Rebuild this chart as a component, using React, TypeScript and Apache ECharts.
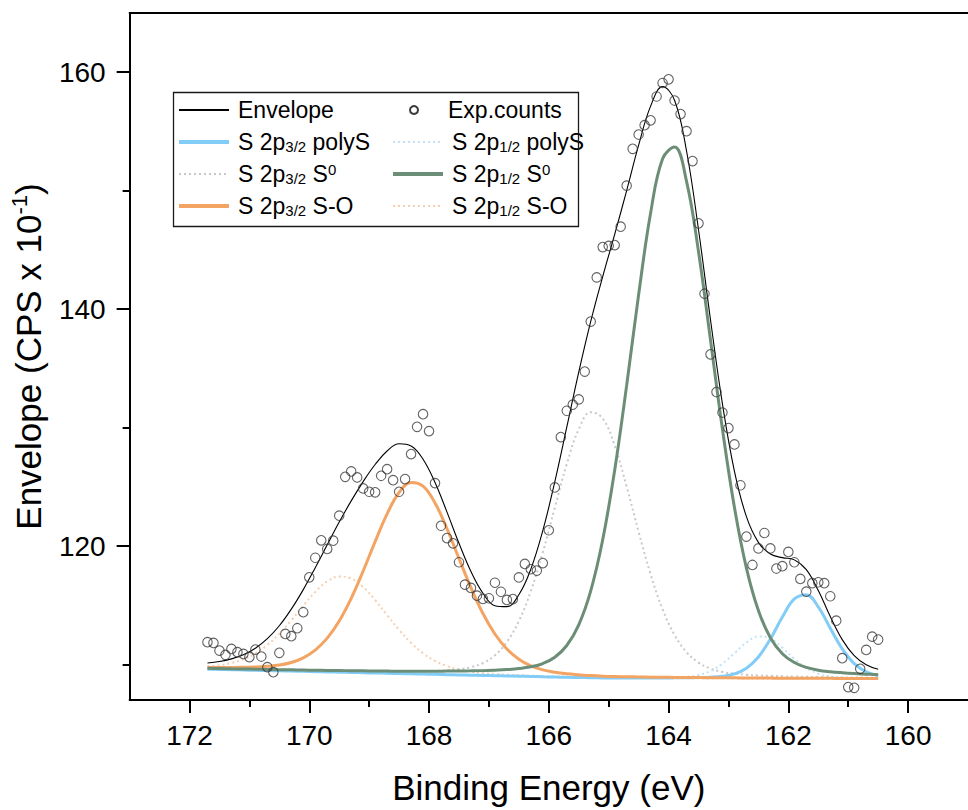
import { useEffect, useRef } from "react";
import * as echarts from "echarts";

// Binding energy grid of the fitted curves (eV)
const energy = [171.7,171.5,171.3,171.1,170.9,170.7,170.5,170.3,170.1,169.9,169.7,169.5,169.3,169.1,168.9,168.7,168.5,168.3,168.1,167.9,167.7,167.5,167.3,167.1,166.9,166.7,166.5,166.3,166.1,165.9,165.7,165.5,165.3,165.1,164.9,164.7,164.5,164.3,164.1,163.9,163.7,163.5,163.3,163.1,162.9,162.7,162.5,162.3,162.1,161.9,161.7,161.5,161.3,161.1,160.9,160.7,160.5];

const envelope = [110.13,110.25,110.47,110.82,111.37,112.18,113.27,114.67,116.32,118.17,120.11,122.02,123.81,125.44,126.88,128.02,128.63,128.45,127.33,125.36,122.86,120.23,117.84,116.01,114.96,114.88,115.89,118.05,121.30,125.42,130.03,134.68,138.96,142.75,146.31,150.01,153.84,157.14,158.78,157.63,153.35,146.70,139.10,131.98,126.31,122.48,120.31,119.32,119.02,118.83,118.00,116.24,114.05,112.10,110.74,109.97,109.59];
const polyS32 = [109.60,109.58,109.56,109.53,109.51,109.49,109.46,109.44,109.42,109.39,109.37,109.35,109.33,109.30,109.28,109.26,109.23,109.21,109.19,109.17,109.14,109.12,109.10,109.07,109.05,109.03,109.01,108.99,108.96,108.94,108.92,108.90,108.88,108.86,108.85,108.85,108.85,108.86,108.86,108.87,108.88,108.90,108.93,109.01,109.20,109.68,110.63,112.15,114.00,115.53,115.89,114.86,113.06,111.31,110.07,109.38,109.06];
const polyS12 = [109.60,109.58,109.56,109.53,109.51,109.49,109.46,109.44,109.42,109.39,109.37,109.35,109.32,109.30,109.28,109.26,109.23,109.21,109.19,109.16,109.14,109.12,109.09,109.07,109.05,109.03,109.00,108.98,108.96,108.94,108.92,108.89,108.87,108.85,108.84,108.85,108.85,108.86,108.87,108.89,108.95,109.11,109.45,110.07,110.95,111.86,112.37,112.19,111.42,110.48,109.71,109.23,108.99,108.89,108.85,108.83,108.82];
const s0_32 = [109.65,109.63,109.61,109.59,109.58,109.56,109.54,109.52,109.51,109.49,109.48,109.46,109.45,109.44,109.43,109.43,109.43,109.43,109.44,109.46,109.50,109.59,109.77,110.12,110.77,111.90,113.66,116.20,119.47,123.22,126.92,129.86,131.29,130.77,128.47,125.02,121.19,117.61,114.66,112.49,111.04,110.16,109.65,109.37,109.22,109.13,109.07,109.04,109.00,108.98,108.96,108.94,108.92,108.91,108.90,108.89,108.88];
const s0_12 = [109.67,109.65,109.63,109.62,109.60,109.58,109.56,109.55,109.53,109.51,109.50,109.49,109.47,109.46,109.45,109.44,109.43,109.43,109.43,109.43,109.44,109.45,109.46,109.48,109.52,109.57,109.65,109.80,110.08,110.61,111.60,113.35,116.22,120.53,126.40,133.56,141.22,148.11,152.69,153.68,150.78,144.85,137.39,129.85,123.25,118.14,114.55,112.26,110.91,110.16,109.75,109.52,109.39,109.30,109.23,109.18,109.13];
const so32 = [109.75,109.75,109.75,109.76,109.78,109.84,109.95,110.17,110.56,111.21,112.22,113.67,115.58,117.89,120.37,122.72,124.52,125.37,125.05,123.63,121.46,118.95,116.48,114.30,112.57,111.30,110.44,109.88,109.54,109.34,109.21,109.13,109.06,109.01,108.98,108.96,108.95,108.93,108.92,108.91,108.90,108.89,108.88,108.87,108.87,108.86,108.86,108.85,108.84,108.84,108.84,108.83,108.83,108.82,108.82,108.82,108.81];
const so12 = [109.85,109.94,110.13,110.44,110.93,111.65,112.59,113.73,114.96,116.13,117.01,117.43,117.25,116.54,115.44,114.17,112.92,111.82,110.95,110.30,109.86,109.57,109.39,109.27,109.20,109.14,109.10,109.06,109.03,109.00,108.97,108.94,108.91,108.88,108.86,108.86,108.85,108.85,108.85,108.84,108.84,108.83,108.83,108.83,108.82,108.82,108.82,108.82,108.81,108.81,108.81,108.80,108.80,108.80,108.80,108.80,108.79];

// Measured points
const expEnergy = [171.7,171.6,171.5,171.4,171.3,171.2,171.1,171.0,170.9,170.8,170.7,170.6,170.5,170.4,170.3,170.2,170.1,170.0,169.9,169.8,169.7,169.6,169.5,169.4,169.3,169.2,169.1,169.0,168.9,168.8,168.7,168.6,168.5,168.4,168.3,168.2,168.1,168.0,167.9,167.8,167.7,167.6,167.5,167.4,167.3,167.2,167.1,167.0,166.9,166.8,166.7,166.6,166.5,166.4,166.3,166.2,166.1,166.0,165.9,165.8,165.7,165.6,165.5,165.4,165.3,165.2,165.1,165.0,164.9,164.8,164.7,164.6,164.5,164.4,164.3,164.2,164.1,164.0,163.9,163.8,163.7,163.6,163.5,163.4,163.3,163.2,163.1,163.0,162.9,162.8,162.7,162.6,162.5,162.4,162.3,162.2,162.1,162.0,161.9,161.8,161.7,161.6,161.5,161.4,161.3,161.2,161.1,161.0,160.9,160.8,160.7,160.6,160.5];
const expCounts = [111.88,111.82,111.17,110.81,111.31,111.04,110.89,110.62,111.26,110.67,109.77,109.35,110.98,112.58,112.39,113.06,114.41,117.36,119.01,120.48,119.75,120.45,122.56,125.84,126.30,125.79,124.86,124.58,124.53,125.93,126.49,125.56,124.58,125.65,127.76,130.06,131.13,129.70,125.31,121.71,120.67,120.23,118.63,116.74,116.46,115.81,115.53,115.59,116.90,116.14,115.45,115.52,117.35,118.49,118.04,117.93,118.56,121.33,124.95,129.20,131.42,131.93,132.38,134.73,138.95,142.68,145.24,145.34,145.41,146.96,150.42,153.53,154.74,155.53,155.94,157.95,159.09,159.40,157.61,156.47,155.02,152.50,147.24,141.30,136.18,133.00,131.27,129.96,128.58,125.13,120.80,118.40,119.80,121.10,119.80,118.10,118.30,119.50,118.63,117.22,116.15,116.86,116.94,116.86,115.76,113.70,110.53,108.09,108.03,109.63,111.23,112.35,112.10];

// Tick values
const xMajorTicks = [160, 162, 164, 166, 168, 170, 172];
const xMinorTicks = [161, 163, 165, 167, 169, 171];
const yMajorTicks = [120, 140, 160];
const yMinorTicks = [110, 130, 150];

const FONT = "Arial, 'Liberation Sans', Helvetica, sans-serif";

const legendLabels: Record<string, string> = {
  "Envelope": "Envelope",
  "Exp.counts": "Exp.counts",
  "S 2p3/2 polyS": "S 2p{sub|3/2} polyS",
  "S 2p1/2 polyS": "S 2p{sub|1/2} polyS",
  "S 2p3/2 S0": "S 2p{sub|3/2} S{sup|0}",
  "S 2p1/2 S0": "S 2p{sub|1/2} S{sup|0}",
  "S 2p3/2 S-O": "S 2p{sub|3/2} S-O",
  "S 2p1/2 S-O": "S 2p{sub|1/2} S-O",
};

const pairs = (xs: number[], ys: number[]) => xs.map((x, i) => [x, ys[i]]);

export default function App() {
  const ref = useRef<HTMLDivElement>(null);
  useEffect(() => {
    document.body.style.margin = "0";
    if (!ref.current) return;
    const chart = echarts.init(ref.current, null, { renderer: "svg" });

    const legendText = {
      fontSize: 23,
      fontFamily: FONT,
      color: "#000",
      lineHeight: 24,
      padding: [0, 0, 0, 4],
      rich: {
        sub: { fontSize: 15, fontFamily: FONT, color: "#000", lineHeight: 12, verticalAlign: "bottom" },
        sup: { fontSize: 15, fontFamily: FONT, color: "#000", lineHeight: 15, verticalAlign: "top" },
      },
    };
    const legendBase = {
      orient: "vertical",
      top: 98,
      itemWidth: 50,
      itemHeight: 14,
      itemGap: 8,
      padding: 0,
      selectedMode: false,
      formatter: (n: string) => legendLabels[n] ?? n,
      textStyle: legendText,
      itemStyle: { opacity: 0 },
    };
    const thick = (name: string) => ({ name, lineStyle: { width: 4 } });

    const lineSeries = (name: string, data: number[], color: string, width: number, dotted: boolean, z: number) => ({
      name,
      type: "line",
      data: pairs(energy, data),
      smooth: 0.4,
      symbol: "none",
      z,
      lineStyle: { color, width, type: dotted ? [2, 3] : "solid" },
      itemStyle: { color },
    });

    const axisCommonX = {
      type: "value",
      min: 159,
      max: 173,
      inverse: true,
      gridIndex: 0,
      splitLine: { show: false },
    };
    const axisCommonY = {
      type: "value",
      min: 107,
      max: 165,
      gridIndex: 0,
      splitLine: { show: false },
    };
    const axisLineStyle = { color: "#000", width: 2 };

    chart.setOption({
      animation: false,
      backgroundColor: "#fff",
      grid: { left: 129, top: 13, width: 851, height: 688, containLabel: false },
      xAxis: [
        {
          ...axisCommonX,
          position: "bottom",
          axisLine: { show: true, onZero: false, lineStyle: axisLineStyle },
          axisTick: { show: true, length: 13, customValues: xMajorTicks, lineStyle: axisLineStyle },
          axisLabel: { customValues: xMajorTicks, fontSize: 28, color: "#000", margin: 21, fontFamily: FONT },
          name: "Binding Energy (eV)",
          nameLocation: "middle",
          nameGap: 70,
          nameTextStyle: { fontSize: 35, color: "#000", fontFamily: FONT },
        },
        {
          ...axisCommonX,
          position: "bottom",
          axisLine: { show: false, onZero: false },
          axisTick: { show: true, length: 7, customValues: xMinorTicks, lineStyle: axisLineStyle },
          axisLabel: { show: false },
        },
        {
          ...axisCommonX,
          position: "top",
          axisLine: { show: true, onZero: false, lineStyle: axisLineStyle },
          axisTick: { show: false },
          axisLabel: { show: false },
        },
      ],
      yAxis: [
        {
          ...axisCommonY,
          position: "left",
          axisLine: { show: true, onZero: false, lineStyle: axisLineStyle },
          axisTick: { show: true, length: 13, customValues: yMajorTicks, lineStyle: axisLineStyle },
          axisLabel: { customValues: yMajorTicks, fontSize: 28, color: "#000", margin: 24, fontFamily: FONT },
          name: "Envelope (CPS x 10{sup|-1})",
          nameLocation: "middle",
          nameGap: 70,
          nameTextStyle: {
            fontSize: 35,
            color: "#000",
            fontFamily: FONT,
            lineHeight: 40,
            rich: { sup: { fontSize: 22, color: "#000", fontFamily: FONT, lineHeight: 22, verticalAlign: "top" } },
          },
        },
        {
          ...axisCommonY,
          position: "left",
          axisLine: { show: false, onZero: false },
          axisTick: { show: true, length: 7, customValues: yMinorTicks, lineStyle: axisLineStyle },
          axisLabel: { show: false },
        },
      ],
      legend: [
        {
          ...legendBase,
          left: 177,
          data: ["Envelope", thick("S 2p3/2 polyS"), "S 2p3/2 S0", thick("S 2p3/2 S-O")],
        },
        {
          ...legendBase,
          left: 409,
          top: 98,
          itemHeight: 8,
          itemStyle: { opacity: 1 },
          data: ["Exp.counts"],
        },
        {
          ...legendBase,
          left: 391,
          top: 130,
          data: ["S 2p1/2 polyS", thick("S 2p1/2 S0"), "S 2p1/2 S-O"],
        },
      ],
      graphic: [
        {
          type: "rect",
          shape: { x: 173.5, y: 92.5, width: 405, height: 134 },
          style: { fill: "none", stroke: "#1a1a1a", lineWidth: 1.3 },
          z: 100,
        },
      ],
      series: [
        lineSeries("S 2p1/2 S-O", so12, "#f7cfb0", 2, true, 1),
        lineSeries("S 2p3/2 S0", s0_32, "#c8c8c8", 2, true, 1),
        lineSeries("S 2p1/2 polyS", polyS12, "#bfe3f7", 2, true, 1),
        lineSeries("S 2p3/2 polyS", polyS32, "#82cdf8", 3, false, 2),
        lineSeries("S 2p3/2 S-O", so32, "#f4a462", 3, false, 3),
        lineSeries("S 2p1/2 S0", s0_12, "#6c8e76", 3, false, 4),
        lineSeries("Envelope", envelope, "#000", 1.1, false, 5),
        {
          name: "Exp.counts",
          type: "scatter",
          data: pairs(expEnergy, expCounts),
          symbol: "circle",
          symbolSize: 9.5,
          z: 6,
          itemStyle: { color: "rgba(255,255,255,0)", borderColor: "#3a3a3a", borderWidth: 1.1 },
        },
      ],
    } as any);

    return () => chart.dispose();
  }, []);
  return <div ref={ref} style={{ width: 968, height: 810 }} />;
}
